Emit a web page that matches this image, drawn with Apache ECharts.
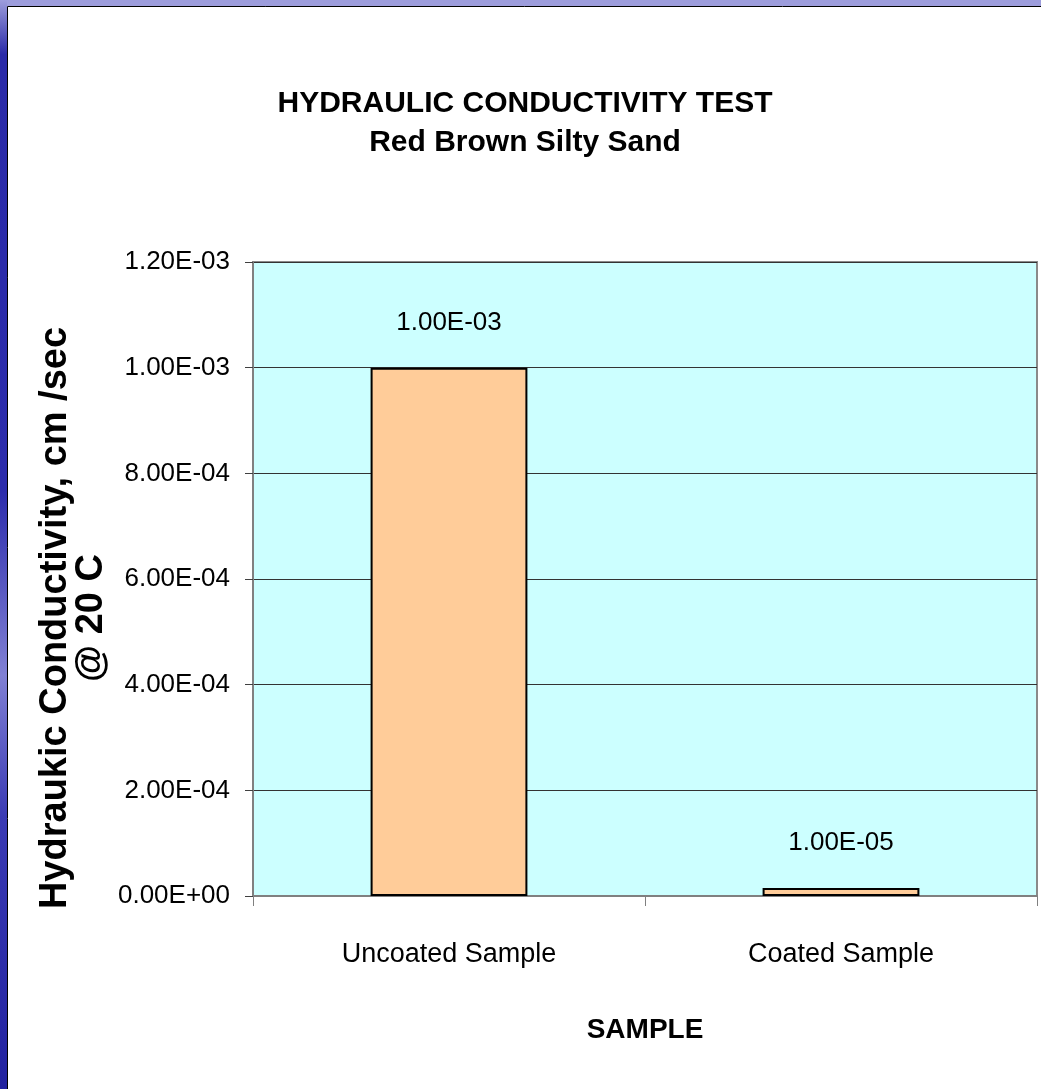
<!DOCTYPE html>
<html>
<head>
<meta charset="utf-8">
<script src="https://cdn.jsdelivr.net/npm/echarts/dist/echarts.min.js"></script>
<style>
  html, body { margin: 0; padding: 0; background: #ffffff; }
  #chart { width: 1041px; height: 1089px; }
</style>
</head>
<body>
<div id="chart"></div>
<script>
var categories = ["Uncoated Sample", "Coated Sample"];
var conductivity = [1.0e-3, 1.0e-5];
var yMin = 0;
var yMax = 1.2e-3;
var yStep = 2e-4;

var titleText = "HYDRAULIC CONDUCTIVITY TEST";
var subtitleText = "Red Brown Silty Sand";
var xName = "SAMPLE";
var yName = "Hydraukic Conductivity, cm /sec\n@ 20 C";

// Excel-style scientific notation: 1.00E-03
function sci(v) {
  if (v === 0) return "0.00E+00";
  var parts = v.toExponential(2).split("e");
  var e = parseInt(parts[1], 10);
  var a = Math.abs(e);
  return parts[0] + "E" + (e < 0 ? "-" : "+") + (a < 10 ? "0" : "") + a;
}

var font = "'Liberation Sans', Arial, sans-serif";
var myChart = echarts.init(document.getElementById("chart"));

var option = {
  animation: false,
  backgroundColor: "#ffffff",
  title: {
    text: titleText,
    subtext: subtitleText,
    left: 520,
    textAlign: "center",
    top: 80,
    itemGap: 1,
    textStyle: { fontFamily: font, fontSize: 30, fontWeight: "bold", color: "#000", lineHeight: 38 },
    subtextStyle: { fontFamily: font, fontSize: 30, fontWeight: "bold", color: "#000", lineHeight: 38 },
  },
  graphic: [
    {
      type: "rect",
      shape: { x: 0, y: 0, width: 1041, height: 6 },
      style: { fill: "#9d9ddc" },
      silent: true,
    },
    {
      type: "rect",
      shape: { x: 0, y: 0, width: 7, height: 1089 },
      style: {
        fill: {
          type: "linear", x: 0, y: 0, x2: 0, y2: 1,
          colorStops: [
            { offset: 0, color: "#9d9ddc" },
            { offset: 0.05, color: "#2a2aa8" },
            { offset: 0.45, color: "#2c2cac" },
            { offset: 0.62, color: "#8080d4" },
            { offset: 0.75, color: "#3a3ab4" },
            { offset: 1, color: "#2222a0" },
          ],
        },
      },
      silent: true,
    },
    {
      type: "polyline",
      shape: { points: [[7.5, 1089], [7.5, 6.5], [1041, 6.5]] },
      style: { stroke: "#000", lineWidth: 1, fill: null },
      silent: true,
    },
  ],
  grid: {
    left: 253,
    right: 4,
    top: 262,
    bottom: 193,
    show: true,
    backgroundColor: "#ccffff",
    borderColor: "#8a8a8a",
    borderWidth: 2,
    outerBoundsMode: "none",
  },
  xAxis: {
    type: "category",
    data: categories,
    boundaryGap: true,
    name: xName,
    nameLocation: "middle",
    nameGap: 116,
    nameTextStyle: { fontFamily: font, fontSize: 28, fontWeight: "bold", color: "#000", lineHeight: 36 },
    axisLine: { show: true, lineStyle: { color: "#808080", width: 2 } },
    axisTick: { show: true, length: 10, alignWithLabel: false, lineStyle: { color: "#808080", width: 1 } },
    axisLabel: { fontFamily: font, fontSize: 27, color: "#000", margin: 41, lineHeight: 36, interval: 0 },
    splitLine: { show: false },
  },
  yAxis: {
    type: "value",
    min: yMin,
    max: yMax,
    interval: yStep,
    name: yName,
    nameLocation: "middle",
    nameGap: 143,
    nameRotate: 90,
    nameMoveOverlap: false,
    nameTextStyle: {
      fontFamily: font,
      fontSize: 38,
      fontWeight: "bold",
      color: "#000",
      lineHeight: 36,
      align: "center",
      padding: [0, 78, 0, 0],
    },
    axisLine: { show: true, lineStyle: { color: "#808080", width: 2 } },
    axisTick: { show: true, length: 8, lineStyle: { color: "#404040", width: 1 } },
    axisLabel: { fontFamily: font, fontSize: 26, color: "#000", margin: 23, formatter: sci },
    splitLine: { show: true, lineStyle: { color: "#333333", width: 1 } },
  },
  series: [
    {
      type: "bar",
      data: conductivity,
      barWidth: "40%",
      barMinHeight: 8,
      itemStyle: { color: "#ffcc99", borderColor: "#000", borderWidth: 2 },
      label: {
        show: true,
        position: "top",
        distance: 27,
        fontFamily: font,
        fontSize: 26,
        lineHeight: 36,
        color: "#000",
        formatter: function (p) { return sci(p.value); },
      },
    },
  ],
};

myChart.setOption(option);
</script>
</body>
</html>
